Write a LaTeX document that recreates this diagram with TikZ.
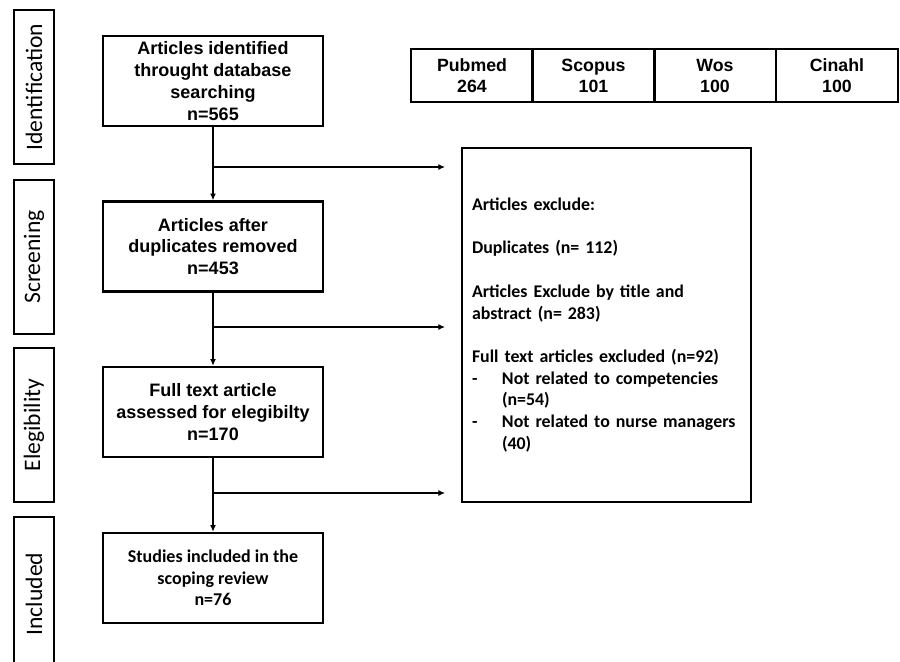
\documentclass[tikz,border=0pt]{standalone}
\usepackage{fontspec}
\setmainfont{Liberation Sans}
\newfontfamily\calibri{Carlito}
\usetikzlibrary{arrows.meta}
\tikzstyle{stage}=[draw=black, line width=2pt, rotate=90, minimum width=115.5pt, minimum height=30pt, inner sep=0pt, font=\calibri\fontsize{17.7}{20}\selectfont]
\tikzstyle{flowbox}=[draw=black, line width=2pt, minimum width=165pt, minimum height=67.5pt, inner sep=2pt, align=center, font=\bfseries\fontsize{13.5}{16.3}\selectfont]
\tikzstyle{dbase}=[draw=black, line width=2pt, minimum width=91.5pt, minimum height=39.75pt, inner sep=1pt, align=center, font=\bfseries\fontsize{13.3}{15.75}\selectfont]
\tikzstyle{link}=[line width=0.8pt, -{Latex[length=5pt,width=4.5pt]}]

\begin{document}
\begin{tikzpicture}[x=0.75pt, y=-0.75pt]
	\useasboundingbox (0,0) rectangle (900,661);

	% Stages on the left
	\node[stage] (idlab) at (34,87) {Identification};
	\node[stage] (sclab) at (34,257) {Screening};
	\node[stage] (ellab) at (34,425) {Elegibility};
	\node[stage] (inlab) at (34,594) {Included};

	% Main flow
	\node[flowbox] (ident) at (213,81) {Articles identified\\throught database\\searching\\n=565};
	\node[flowbox] (screen) at (213,246.5) {Articles after\\duplicates removed\\n=453};
	\node[flowbox] (elig) at (213,412) {Full text article\\assessed for elegibilty\\n=170};
	\node[flowbox, font=\calibri\bfseries\fontsize{13.5}{16.3}\selectfont] (incl) at (213,578) {Studies included in the\\scoping review\\n=76};

	% Databases
	\node[dbase] (pubmed) at (472,75.5) {Pubmed\\264};
	\node[dbase] (scopus) at (593.5,75.5) {Scopus\\101};
	\node[dbase] (wos) at (715,75.5) {Wos\\100};
	\node[dbase] (cinahl) at (837,75.5) {Cinahl\\100};

	% Exclusions
	\node[draw=black, line width=2pt, text width=201.75pt, inner xsep=7.5pt, minimum height=265.5pt, align=left,
		font=\calibri\bfseries\fontsize{13.4}{16.3}\selectfont] (excl) at (606.5,325) {%
		Articles exclude:\\[16.3pt]
		Duplicates (n= 112)\\[16.3pt]
		Articles Exclude by title and\\
		abstract (n= 283)\\[16.3pt]
		Full text articles excluded (n=92)\\
		\makebox[22.5pt][l]{-}Not related to competencies\\
		\hspace*{22.5pt}(n=54)\\
		\makebox[22.5pt][l]{-}Not related to nurse managers\\
		\hspace*{22.5pt}(40)};

	\draw[link] (ident) -- (screen);
	\draw[link] (screen) -- (elig);
	\draw[link] (elig) -- (incl);

	\coordinate (j1) at (213,167); \coordinate (t1) at (445,167);
	\coordinate (j2) at (213,327); \coordinate (t2) at (445,327);
	\coordinate (j3) at (213,493); \coordinate (t3) at (445,493);
	\foreach \i in {1,2,3}{ \draw[link] (j\i) -- (t\i); }
\end{tikzpicture}
\end{document}
